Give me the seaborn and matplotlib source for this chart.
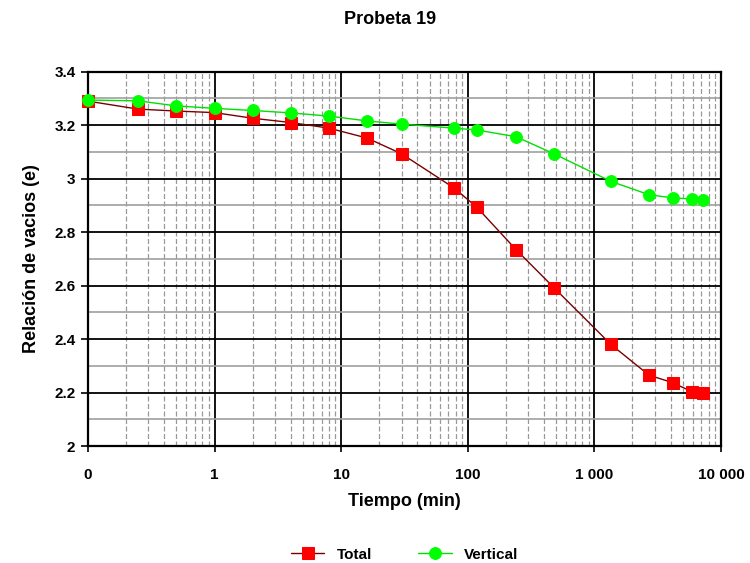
import matplotlib
matplotlib.use("Agg")
import matplotlib.pyplot as plt
from matplotlib.ticker import FixedLocator, FixedFormatter, LogLocator, MultipleLocator, NullFormatter
import numpy as np
import pandas as pd
import seaborn as sns

# Tiempo (min) -- first reading plotted at 0.1 on the log axis, labelled "0"
tiempo = [0.1, 0.25, 0.5, 1, 2, 4, 8, 16, 30, 78, 118, 240, 480, 1350, 2700, 4150, 5900, 7250]
total = [3.29, 3.26, 3.253, 3.247, 3.226, 3.21, 3.189, 3.152, 3.093, 2.965, 2.893, 2.735, 2.592,
         2.38, 2.265, 2.237, 2.203, 2.200]
vertical = [3.294, 3.291, 3.272, 3.263, 3.255, 3.246, 3.234, 3.216, 3.204, 3.189, 3.182, 3.157,
            3.093, 2.99, 2.94, 2.928, 2.924, 2.921]

x_ticks = [0.1, 1, 10, 100, 1000, 10000]
x_tick_labels = ["0", "1", "10", "100", "1 000", "10 000"]
y_ticks = [2, 2.2, 2.4, 2.6, 2.8, 3, 3.2, 3.4]
y_tick_labels = ["2", "2.2", "2.4", "2.6", "2.8", "3", "3.2", "3.4"]

df_total = pd.DataFrame({"Tiempo": tiempo, "e": total})
df_vert = pd.DataFrame({"Tiempo": tiempo, "e": vertical})

sns.set_style("white")
plt.rcParams["font.family"] = ["Liberation Sans", "DejaVu Sans"]
plt.rcParams["text.color"] = "black"
plt.rcParams["axes.labelcolor"] = "black"
plt.rcParams["xtick.color"] = "black"
plt.rcParams["ytick.color"] = "black"

fig = plt.figure(figsize=(7.5, 5.63), dpi=100)
ax = fig.add_axes([0.1173, 0.2078, 0.844, 0.6648])

sns.lineplot(data=df_total, x="Tiempo", y="e", ax=ax, color="#7a0000", lw=1.0,
             marker="s", markersize=8, markerfacecolor="#ff0000", markeredgecolor="#ff0000",
             label="Total", zorder=3, clip_on=False)
sns.lineplot(data=df_vert, x="Tiempo", y="e", ax=ax, color="#00e000", lw=1.0,
             marker="o", markersize=8.5, markerfacecolor="#00ff00", markeredgecolor="#00ff00",
             label="Vertical", zorder=4, clip_on=False)

ax.set_xscale("log")
ax.set_xlim(0.1, 10000)
ax.set_ylim(2, 3.4)

ax.xaxis.set_major_locator(FixedLocator(x_ticks))
ax.xaxis.set_major_formatter(FixedFormatter(x_tick_labels))
ax.xaxis.set_minor_locator(LogLocator(base=10, subs=np.arange(2, 10)))
ax.xaxis.set_minor_formatter(NullFormatter())
ax.yaxis.set_major_locator(FixedLocator(y_ticks))
ax.yaxis.set_major_formatter(FixedFormatter(y_tick_labels))
ax.yaxis.set_minor_locator(MultipleLocator(0.1))

ax.grid(which="major", axis="both", color="black", lw=1.3, zorder=1)
ax.grid(which="minor", axis="x", color="#999999", lw=0.9, ls=(0, (4, 2)), zorder=1)
ax.grid(which="minor", axis="y", color="#a0a0a0", lw=1.2, zorder=1)
ax.set_axisbelow(True)

for s in ax.spines.values():
    s.set_color("black")
    s.set_linewidth(1.6)

ax.tick_params(axis="y", which="major", left=True, length=5, width=1.2, color="black",
               labelsize=11, pad=4, labelcolor="black")
ax.tick_params(axis="y", which="minor", left=False)
ax.tick_params(axis="x", which="major", bottom=True, length=4, width=1.2, color="black",
               labelsize=11, pad=12, labelcolor="black")
ax.tick_params(axis="x", which="minor", bottom=False)
for lbl in ax.get_xticklabels() + ax.get_yticklabels():
    lbl.set_fontweight("bold")

ax.set_xlabel("Tiempo (min)", fontsize=13, fontweight="bold", labelpad=8, color="black")
ax.set_ylabel("Relación de vacios (e)", fontsize=13, fontweight="bold", labelpad=10, color="black")
fig.suptitle("Probeta 19", x=0.52, y=0.98, fontsize=13, fontweight="bold", color="black")

leg = ax.legend(loc="upper center", bbox_to_anchor=(0.5, -0.235), ncol=2, frameon=False,
                handlelength=2.2, columnspacing=3.0, prop={"weight": "bold", "size": 11})
for t in leg.get_texts():
    t.set_color("black")

fig.savefig("out.png", dpi=100, facecolor="white")
